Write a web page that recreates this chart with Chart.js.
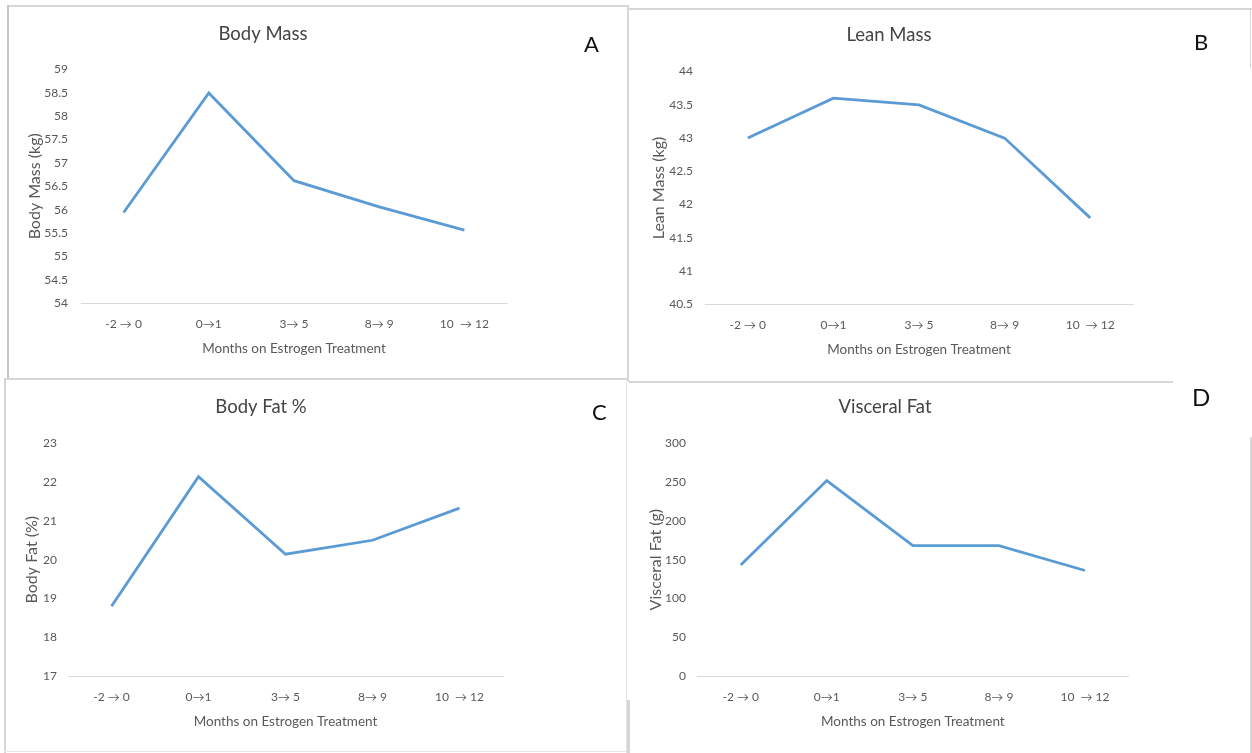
<!DOCTYPE html>
<html lang="en">

<head>
  <meta charset="UTF-8" />
  <title>Estrogen Treatment Body Composition</title>
  <script src="https://cdn.jsdelivr.net/npm/chart.js"></script>
  <style>
    body {
      margin: 0;
      background: #fff;
      width: 1252px;
      height: 753px;
      position: relative;
      overflow: hidden;
      font-family: Lato, sans-serif;
    }

    canvas {
      position: absolute;
    }

    .line {
      position: absolute;
      background: #d6d6d6;
    }

    .letter {
      position: absolute;
      font-family: Lato, sans-serif;
      color: #111;
      line-height: 1;
    }
  </style>
</head>

<body>
  <!-- panel frames -->
  <div class="line" style="left:7px;top:5px;width:622px;height:2px;"></div>
  <div class="line" style="left:7px;top:5px;width:2px;height:374px;background:#c4c4c4;"></div>
  <div class="line" style="left:627px;top:5px;width:2px;height:377px;"></div>
  <div class="line" style="left:629px;top:8px;width:623px;height:2px;"></div>
  <div class="line" style="left:1250px;top:8px;width:1px;height:60px;"></div>
  <div class="line" style="left:4px;top:378px;width:625px;height:2px;"></div>
  <div class="line" style="left:629px;top:381px;width:544px;height:2px;"></div>
  <div class="line" style="left:4px;top:378px;width:2px;height:375px;"></div>
  <div class="line" style="left:626px;top:382px;width:1px;height:371px;background:#e4e4e4;"></div>
  <div class="line" style="left:627px;top:700px;width:3px;height:53px;"></div>
  <div class="line" style="left:1250px;top:437px;width:2px;height:316px;"></div>
  <div class="line" style="left:4px;top:751px;width:623px;height:1px;background:#e6e6e6;"></div>

  <canvas id="chartA" width="620" height="370" style="left:8px;top:6px;"></canvas>
  <canvas id="chartB" width="618" height="370" style="left:632px;top:10px;"></canvas>
  <canvas id="chartC" width="620" height="370" style="left:6px;top:381px;"></canvas>
  <canvas id="chartD" width="620" height="367" style="left:630px;top:384px;"></canvas>

  <div class="letter" style="left:584px;top:33px;font-size:22px;">A</div>
  <div class="letter" style="left:1194px;top:31px;font-size:22px;">B</div>
  <div class="letter" style="left:592px;top:401px;font-size:22px;">C</div>
  <div class="letter" style="left:1192px;top:385px;font-size:24px;">D</div>

  <script>
    // Treatment intervals (months)
    const months = ['-2 \u2192 0', '0\u21921', '3\u2192 5', '8\u2192 9', '10  \u2192 12'];

    // Series values per measurement
    const bodyMass = [55.94, 58.5, 56.62, 56.06, 55.56];
    const leanMass = [43.0, 43.6, 43.5, 43.0, 41.8];
    const bodyFat = [18.8, 22.14, 20.14, 20.5, 21.33];
    const visceralFat = [143, 252, 168, 168, 136];

    // y-axis tick labels
    const bodyMassTicks = [54, 54.5, 55, 55.5, 56, 56.5, 57, 57.5, 58, 58.5, 59];
    const leanMassTicks = [40.5, 41, 41.5, 42, 42.5, 43, 43.5, 44];
    const bodyFatTicks = [17, 18, 19, 20, 21, 22, 23];
    const visceralFatTicks = [0, 50, 100, 150, 200, 250, 300];

    const xTitle = 'Months on Estrogen Treatment';
    const grey = '#595959';
    const lineColor = '#5b9bd5';

    function makeChart(id, title, yTitle, values, ticks, lay) {
      const ctx = document.getElementById(id).getContext('2d');
      return new Chart(ctx, {
        type: 'line',
        data: {
          labels: months,
          datasets: [{
            data: values,
            borderColor: lineColor,
            borderWidth: 2.8,
            pointRadius: 0,
            tension: 0,
            fill: false
          }]
        },
        options: {
          responsive: false,
          animation: false,
          layout: {
            padding: { left: lay.padL, right: lay.padR, top: 0, bottom: lay.padB }
          },
          plugins: {
            legend: { display: false },
            tooltip: { enabled: false },
            title: {
              display: true,
              text: title,
              color: '#444',
              font: { family: 'Lato', size: 18.5, weight: 'normal' },
              padding: { top: lay.titleTop, bottom: lay.titleBottom }
            }
          },
          scales: {
            x: {
              offset: true,
              grid: { display: false, drawTicks: false },
              border: { display: true, color: '#d9d9d9', width: 1 },
              afterFit: s => {
                s.height = lay.xHeight;
              },
              ticks: {
                color: grey,
                padding: 13.5,
                maxRotation: 0,
                autoSkip: false,
                font: { family: 'Lato', size: 12 }
              },
              title: {
                display: true,
                text: xTitle,
                color: grey,
                font: { family: 'Lato', size: 13.5 },
                padding: { top: 0, bottom: 0 }
              }
            },
            y: {
              min: ticks[0],
              max: ticks[ticks.length - 1],
              grid: { display: false, drawTicks: false },
              border: { display: false },
              afterBuildTicks: s => {
                s.ticks = ticks.map(v => ({ value: v }));
              },
              afterFit: s => {
                s.width = lay.yWidth;
              },
              ticks: {
                color: grey,
                padding: lay.yTickPad,
                font: { family: 'Lato', size: 12 },
                callback: v => String(v)
              },
              title: {
                display: true,
                text: yTitle,
                color: grey,
                font: { family: 'Lato', size: 16 },
                padding: { top: lay.yTitlePad, bottom: 0 }
              }
            }
          }
        }
      });
    }

    makeChart('chartA', 'Body Mass', 'Body Mass (kg)', bodyMass, bodyMassTicks,
      { padL: 11, padR: 121, padB: 19, xHeight: 54, yWidth: 62, yTickPad: 13, yTitlePad: 6.5, titleTop: 17, titleBottom: 24.4 });
    makeChart('chartB', 'Lean Mass', 'Lean Mass (kg)', leanMass, leanMassTicks,
      { padL: 13, padR: 117, padB: 22.2, xHeight: 53.5, yWidth: 60, yTickPad: 12, yTitlePad: 4.5, titleTop: 14.2, titleBottom: 25.2 });
    makeChart('chartC', 'Body Fat %', 'Body Fat (%)', bodyFat, bodyFatTicks,
      { padL: 13, padR: 123, padB: 20.9, xHeight: 54.1, yWidth: 49, yTickPad: 11, yTitlePad: 3.5, titleTop: 15.2, titleBottom: 24.9 });
    makeChart('chartD', 'Visceral Fat', 'Visceral Fat (g)', visceralFat, visceralFatTicks,
      { padL: 12, padR: 122, padB: 20.9, xHeight: 54.1, yWidth: 55.7, yTickPad: 11.7, yTitlePad: 4, titleTop: 12.2, titleBottom: 24.9 });
  </script>
</body>

</html>
